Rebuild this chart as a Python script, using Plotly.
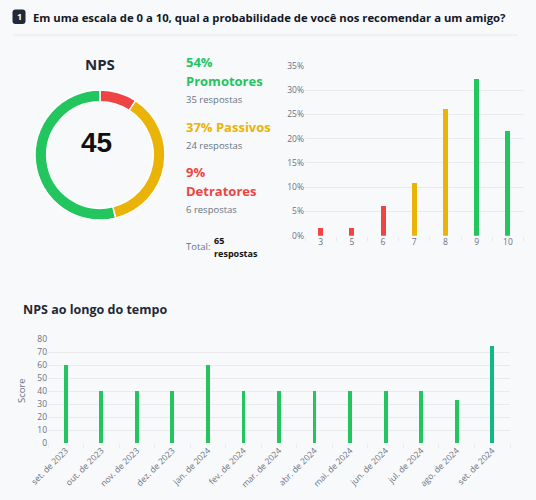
import plotly.graph_objects as go

W, H = 536, 500

# ---- data ----
question = "Em uma escala de 0 a 10, qual a probabilidade de você nos recomendar a um amigo?"
nps_score = 45
group_labels = ["Detratores", "Passivos", "Promotores"]
group_counts = [6, 24, 35]
group_pcts = [9, 37, 54]
total = 65

score_cats = ["3", "5", "6", "7", "8", "9", "10"]
score_pct = [1.54, 1.54, 6.15, 10.77, 26.15, 32.31, 21.54]

months = ["set. de 2023", "out. de 2023", "nov. de 2023", "dez. de 2023", "jan. de 2024",
          "fev. de 2024", "mar. de 2024", "abr. de 2024", "mai. de 2024", "jun. de 2024",
          "jul. de 2024", "ago. de 2024", "set. de 2024"]
month_scores = [60, 40, 40, 40, 60, 40, 40, 40, 40, 40, 40, 33, 75]

# ---- styles ----
RED, YEL, GRN, TEAL = "#ef4444", "#eab308", "#22c55e", "#10b981"
BG = "#f8f9fb"
GRID = "#e8eaee"
TICK = "#6b7280"
FONT = "Open Sans"

def px(x):
    return x / W

def py(y):
    return 1 - y / H

score_colors = []
for c in score_cats:
    v = int(c)
    score_colors.append(RED if v <= 6 else (YEL if v <= 8 else GRN))
month_colors = [GRN] * (len(months) - 1) + [TEAL]

fig = go.Figure()

fig.add_trace(go.Pie(
    values=group_counts, labels=group_labels, sort=False, direction="clockwise",
    rotation=0, hole=0.82, textinfo="none", hoverinfo="label+value",
    marker=dict(colors=[RED, YEL, GRN], line=dict(color="white", width=1.5)),
    domain=dict(x=[px(35), px(165)], y=[py(220), py(90)]), showlegend=False,
))

fig.add_trace(go.Bar(
    x=score_cats, y=score_pct, marker=dict(color=score_colors, line=dict(width=0)),
    width=0.16, xaxis="x", yaxis="y", showlegend=False,
))

fig.add_trace(go.Bar(
    x=months, y=month_scores, marker=dict(color=month_colors, line=dict(width=0)),
    width=0.11, xaxis="x2", yaxis="y2", showlegend=False,
))

axis_common = dict(showline=False, zeroline=False, automargin=False,
                   tickfont=dict(family=FONT, size=8.5, color=TICK))

fig.update_layout(
    width=W, height=H, margin=dict(l=0, r=0, t=0, b=0, autoexpand=False),
    paper_bgcolor=BG, plot_bgcolor=BG, font=dict(family=FONT),
    bargap=0,
    xaxis=dict(domain=[px(305), px(523.5)], type="category", showgrid=False,
               ticks="outside", tickson="boundaries", ticklen=4, tickcolor=GRID,
               anchor="y", **axis_common),
    yaxis=dict(domain=[py(235.7), py(66)], range=[0, 35], dtick=5, ticksuffix="%",
               showgrid=True, gridcolor=GRID, gridwidth=1, anchor="x", ticks="",
               **axis_common),
    xaxis2=dict(domain=[px(48), px(510)], type="category", showgrid=False,
                ticks="outside", tickson="boundaries", ticklen=4, tickcolor=GRID,
                tickangle=-45, anchor="y2", **axis_common),
    yaxis2=dict(domain=[py(443), py(339)], range=[0, 80], dtick=10,
                showgrid=True, gridcolor=GRID, gridwidth=1, anchor="x2", ticks="",
                **axis_common),
)


def note(x, y, text, font, xanchor="center", yanchor="middle", **kw):
    fig.add_annotation(x=px(x), y=py(y), xref="paper", yref="paper", text=text,
                       xanchor=xanchor, yanchor=yanchor, showarrow=False, font=font, **kw)


# y-axis title of bottom chart
note(21, 391, "Score", dict(family=FONT, size=9.5, color=TICK), textangle=-90)

# header badge (rounded square)
bx0, bx1, by0, by1, rr = 12.5, 25.5, 9.5, 24, 3
path = ("M {a},{b} L {c},{b} Q {d},{b} {d},{e} L {d},{f} Q {d},{g} {c},{g} L {a},{g} "
        "Q {h},{g} {h},{f} L {h},{e} Q {h},{b} {a},{b} Z").format(
    a=px(bx0 + rr), b=py(by0), c=px(bx1 - rr), d=px(bx1), e=py(by0 + rr),
    f=py(by1 - rr), g=py(by1), h=px(bx0))
fig.add_shape(type="path", xref="paper", yref="paper", path=path,
              fillcolor="#1f2937", line=dict(width=0))
note((bx0 + bx1) / 2, (by0 + by1) / 2, "<b>1</b>", dict(family=FONT, size=9, color="white"))
note(31, 17, "<b>" + question + "</b>", dict(family=FONT, size=11.3, color="#111827"), xanchor="left")
fig.add_shape(type="line", xref="paper", yref="paper", x0=px(13), x1=px(518), y0=py(35), y1=py(35),
              line=dict(color="#e5e7eb", width=1))

# NPS title and score
note(100, 64, "<b>NPS</b>", dict(family=FONT, size=15, color="#1f2937"))
note(96, 142, "<b>%d</b>" % nps_score, dict(family="Liberation Sans", size=28, color="#111111"))

# group texts
def txt(y, text, color, size, bold=False):
    note(184, y, ("<b>%s</b>" % text) if bold else text,
         dict(family=FONT, size=size, color=color), xanchor="left")

txt(62, "%d%%" % group_pcts[2], GRN, 13, True)
txt(81, group_labels[2], GRN, 13, True)
txt(100, "%d respostas" % group_counts[2], TICK, 9.5)
txt(127, "%d%% %s" % (group_pcts[1], group_labels[1]), YEL, 13, True)
txt(145, "%d respostas" % group_counts[1], TICK, 9.5)
txt(172, "%d%%" % group_pcts[0], RED, 13, True)
txt(191, group_labels[0], RED, 13, True)
txt(210, "%d respostas" % group_counts[0], TICK, 9.5)
txt(246, "Total:", TICK, 9.5)
note(212, 240, "<b>%d</b>" % total, dict(family=FONT, size=9, color="#111111"), xanchor="left")
note(212, 253, "<b>respostas</b>", dict(family=FONT, size=9, color="#111111"), xanchor="left")

# bottom title
note(21, 309, "<b>NPS ao longo do tempo</b>", dict(family=FONT, size=12.5, color="#1f2937"),
     xanchor="left")

fig.write_html("out.html")
